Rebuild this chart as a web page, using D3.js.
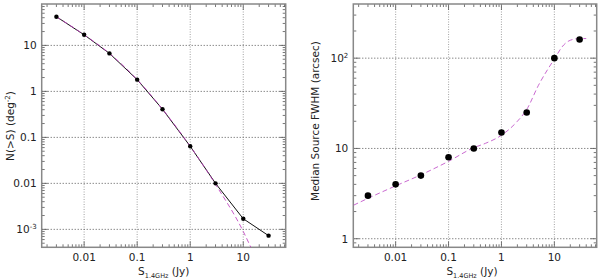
<!DOCTYPE html>
<html>
<head>
<meta charset="utf-8">
<script src="https://cdn.jsdelivr.net/npm/d3@7"></script>
<style>
  body { margin: 0; background: #fff; }
  svg text { font-family: "DejaVu Sans", sans-serif; fill: #222; }
</style>
</head>
<body>
<svg id="chart" width="600" height="279"></svg>
<script>
// flux bins (Jy)
var fluxBins = [0.003, 0.01, 0.03, 0.1, 0.3, 1, 3, 10, 30];
// left panel: integral counts N(>S)
var countsN = [42, 17, 6.7, 1.8, 0.41, 0.064, 0.01, 0.0017, 0.00073];
var countModelS = [0.003, 0.01, 0.03, 0.1, 0.3, 1, 3, 10, 14];
var countModelN = [42, 17, 6.7, 1.8, 0.41, 0.064, 0.0095, 0.0009, 0.0004];
// right panel: median FWHM (arcsec)
var fwhmMedian = [3.0, 4.0, 5.0, 8.0, 10, 15, 25, 100, 161];
var fwhmModelS = [0.0016, 0.003, 0.01, 0.03, 0.1, 0.3, 0.5, 1, 2, 3, 5, 10, 15, 20, 30, 40];
var fwhmModelY = [2.35, 2.8, 3.85, 5.1, 7.2, 10.2, 11.4, 14, 20, 27, 50, 98, 140, 158, 165, 165];
// tick labels
var xTicks = [0.01, 0.1, 1, 10];
var xTickLabels = ["0.01", "0.1", "1", "10"];
var yTicksLeft = [10, 1, 0.1, 0.01, 0.001];
var yTickLabelsLeft = ["10", "1", "0.1", "0.01", ["10", "-3"]];
var yTicksRight = [1, 10, 100];
var yTickLabelsRight = ["1", "10", ["10", "2"]];

var svg = d3.select("#chart");
var plotTop = 4, plotBottom = 247.3;

function panel(opt) {
  var x = d3.scaleLog().domain(opt.xdom).range([opt.x0, opt.x1]);
  var y = d3.scaleLog().domain(opt.ydom).range([plotBottom, plotTop]);
  var g = svg.append("g");

  g.append("clipPath").attr("id", opt.id + "clip")
    .append("rect").attr("x", opt.x0).attr("y", plotTop)
    .attr("width", opt.x1 - opt.x0).attr("height", plotBottom - plotTop);

  // grid
  g.selectAll(".vg").data(xTicks).enter().append("line")
    .attr("x1", d => x(d)).attr("x2", d => x(d))
    .attr("y1", plotTop).attr("y2", plotBottom)
    .attr("stroke", "#aaa").attr("stroke-width", 1.1)
    .attr("stroke-dasharray", "1,1.5");
  g.selectAll(".hg").data(opt.yticks).enter().append("line")
    .attr("x1", opt.x0).attr("x2", opt.x1)
    .attr("y1", d => y(d)).attr("y2", d => y(d))
    .attr("stroke", "#444").attr("stroke-width", 0.9)
    .attr("stroke-dasharray", "1,2");

  // ticks (major + minor)
  function logTicks(dom) {
    var lo = Math.floor(Math.log10(dom[0])), hi = Math.ceil(Math.log10(dom[1]));
    var out = [];
    for (var n = lo; n <= hi; n++) {
      for (var k = 1; k <= 9; k++) {
        var v = k * Math.pow(10, n);
        if (v >= dom[0] && v <= dom[1]) out.push({ v: v, major: k === 1 });
      }
    }
    return out;
  }
  var xt = logTicks(opt.xdom), yt = logTicks(opt.ydom);
  var tc = "#555";
  [plotBottom, plotTop].forEach(function (yy, i) {
    var s = i === 0 ? -1 : 1;
    g.selectAll(null).data(xt).enter().append("line")
      .attr("x1", d => x(d.v)).attr("x2", d => x(d.v))
      .attr("y1", yy).attr("y2", d => yy + s * (d.major ? 6 : 3))
      .attr("stroke", tc).attr("stroke-width", 0.8);
  });
  [opt.x0, opt.x1].forEach(function (xx, i) {
    var s = i === 0 ? 1 : -1;
    g.selectAll(null).data(yt).enter().append("line")
      .attr("y1", d => y(d.v)).attr("y2", d => y(d.v))
      .attr("x1", xx).attr("x2", d => xx + s * (d.major ? 6 : 3))
      .attr("stroke", tc).attr("stroke-width", 0.8);
  });

  // frame
  g.append("rect").attr("x", opt.x0).attr("y", plotTop)
    .attr("width", opt.x1 - opt.x0).attr("height", plotBottom - plotTop)
    .attr("fill", "none").attr("stroke", "#888").attr("stroke-width", 1.5);

  // x tick labels
  g.selectAll(null).data(xTicks).enter().append("text")
    .attr("x", d => x(d)).attr("y", 261)
    .attr("text-anchor", "middle").attr("font-size", 10.5)
    .text((d, i) => xTickLabels[i]);

  // y tick labels
  opt.yticks.forEach(function (v, i) {
    var lab = opt.ylabels[i];
    var t = g.append("text").attr("x", opt.x0 - 5).attr("y", y(v) + 4)
      .attr("text-anchor", "end").attr("font-size", 10.5);
    if (Array.isArray(lab)) {
      t.append("tspan").text(lab[0]);
      t.append("tspan").attr("dy", -4).attr("font-size", 7).text(lab[1]);
    } else {
      t.text(lab);
    }
  });

  // x title
  var xt2 = g.append("text").attr("x", opt.xtitleX).attr("y", 275)
    .attr("text-anchor", "middle").attr("font-size", 10.5);
  xt2.append("tspan").text("S");
  xt2.append("tspan").attr("dy", 3).attr("font-size", 6.5).text("1.4GHz");
  xt2.append("tspan").attr("dy", -3).text(" (Jy)");

  // y title
  var yt2 = g.append("text")
    .attr("transform", "translate(" + opt.ytitleX + "," + opt.ytitleY + ") rotate(-90)")
    .attr("text-anchor", "middle").attr("font-size", 10.5);
  yt2.append("tspan").text(opt.ytitle[0]);
  if (opt.ytitle[1]) {
    yt2.append("tspan").attr("dy", -4).attr("font-size", 7).text(opt.ytitle[1]);
    yt2.append("tspan").attr("dy", 4).text(opt.ytitle[2]);
  }

  return { x: x, y: y, g: g };
}

var dom = [Math.pow(10, -2.8), Math.pow(10, 1.8)];

// left panel
var L = panel({
  id: "L", x0: 41.7, x1: 285.7, xdom: dom,
  ydom: [Math.pow(10, -3.39), Math.pow(10, 1.9)],
  yticks: yTicksLeft, ylabels: yTickLabelsLeft,
  xtitleX: 163.7, ytitleX: 14, ytitleY: 126,
  ytitle: ["N(>S)  (deg", "-2", ")"]
});
var lineL = d3.line().x(d => L.x(d[0])).y(d => L.y(d[1]));
L.g.append("path")
  .datum(fluxBins.map((s, i) => [s, countsN[i]]))
  .attr("d", lineL).attr("fill", "none")
  .attr("stroke", "#111").attr("stroke-width", 1);
L.g.append("path")
  .datum(countModelS.map((s, i) => [s, countModelN[i]]))
  .attr("d", lineL.curve(d3.curveMonotoneX)).attr("fill", "none")
  .attr("clip-path", "url(#Lclip)")
  .attr("stroke", "#c040c0").attr("stroke-width", 1)
  .attr("stroke-dasharray", "5,3").attr("opacity", 0.85);
L.g.selectAll(".pt").data(fluxBins).enter().append("circle")
  .attr("cx", d => L.x(d)).attr("cy", (d, i) => L.y(countsN[i]))
  .attr("r", 2.2).attr("fill", "#000");

// right panel
var R = panel({
  id: "R", x0: 353.3, x1: 596.7, xdom: dom,
  ydom: [Math.pow(10, -0.095), Math.pow(10, 2.6)],
  yticks: yTicksRight, ylabels: yTickLabelsRight,
  xtitleX: 472, ytitleX: 319, ytitleY: 121,
  ytitle: ["Median Source FWHM (arcsec)"]
});
var lineR = d3.line().x(d => R.x(d[0])).y(d => R.y(d[1])).curve(d3.curveMonotoneX);
R.g.append("path")
  .datum(fwhmModelS.map((s, i) => [s, fwhmModelY[i]]))
  .attr("d", lineR).attr("fill", "none")
  .attr("clip-path", "url(#Rclip)")
  .attr("stroke", "#c050c8").attr("stroke-width", 1)
  .attr("stroke-dasharray", "5,3").attr("opacity", 0.85);
R.g.selectAll(".pt").data(fluxBins).enter().append("circle")
  .attr("cx", d => R.x(d)).attr("cy", (d, i) => R.y(fwhmMedian[i]))
  .attr("r", 3.3).attr("fill", "#000");
</script>
</body>
</html>
